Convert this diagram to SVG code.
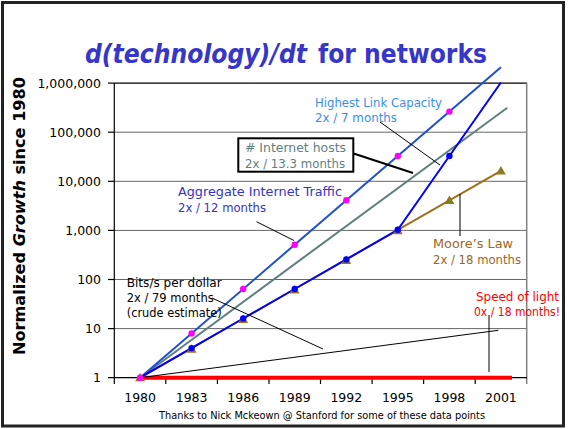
<svg xmlns="http://www.w3.org/2000/svg" width="568" height="429" viewBox="0 0 568 429">
<style>
.grid{stroke:#666;stroke-width:1}
.ax{stroke:#000;stroke-width:1.2}
.tl{font-family:"DejaVu Sans",Verdana,sans-serif;font-size:12.5px;fill:#000}
.cm{font-family:"DejaVu Sans",sans-serif;font-size:12px}
.ld{stroke:#000;stroke-width:1;fill:none}
.pk{fill:#FF00FF}
.bd{fill:#0000FF}
.tri{fill:#6F8A1E;stroke:#A0701C;stroke-width:1.3}
.ttl{font-family:"DejaVu Sans",sans-serif;font-size:26px;font-weight:bold;fill:#3636C8}
</style>
<defs>
<polygon id="tr" class="tri" points="0,-3.5 3.8,3 -3.8,3"/>
<circle id="pd" class="pk" r="3.2"/>
<circle id="bdt" class="bd" r="3.2"/>
</defs>
<rect x="0" y="0" width="568" height="429" fill="#fff"/>
<rect x="2.5" y="2.5" width="561" height="423.5" fill="none" stroke="#222" stroke-width="3"/>

<g id="title">
<text class="ttl" x="85" y="63" font-style="italic" textLength="222" lengthAdjust="spacingAndGlyphs">d(technology)/dt</text>
<text class="ttl" x="318" y="63" textLength="169" lengthAdjust="spacingAndGlyphs">for networks</text>
</g>

<g id="yaxis-title">
<text transform="translate(25,216) rotate(-90)" text-anchor="middle" font-family="DejaVu Sans,sans-serif" font-size="15" font-weight="bold" fill="#000" textLength="278" lengthAdjust="spacingAndGlyphs">Normalized <tspan font-style="italic">Growth</tspan> since 1980</text>
</g>

<g id="plot-frame">
<line class="grid" x1="114" y1="132.2" x2="527" y2="132.2"/>
<line class="grid" x1="114" y1="181.3" x2="527" y2="181.3"/>
<line class="grid" x1="114" y1="230.4" x2="527" y2="230.4"/>
<line class="grid" x1="114" y1="279.5" x2="527" y2="279.5"/>
<line class="grid" x1="114" y1="328.6" x2="527" y2="328.6"/>
<line x1="114" y1="83.1" x2="527" y2="83.1" stroke="#000" stroke-width="1.2"/>
<line x1="526.7" y1="83" x2="526.7" y2="384" stroke="#808080" stroke-width="1.5"/>
<line class="ax" x1="114.3" y1="83" x2="114.3" y2="384"/>
<line class="ax" x1="108" y1="377.7" x2="527" y2="377.7"/>
<g class="ax">
<line x1="108" y1="83.1" x2="114" y2="83.1"/>
<line x1="108" y1="132.2" x2="114" y2="132.2"/>
<line x1="108" y1="181.3" x2="114" y2="181.3"/>
<line x1="108" y1="230.4" x2="114" y2="230.4"/>
<line x1="108" y1="279.5" x2="114" y2="279.5"/>
<line x1="108" y1="328.6" x2="114" y2="328.6"/>
<line x1="165.8" y1="377.7" x2="165.8" y2="384"/>
<line x1="217.4" y1="377.7" x2="217.4" y2="384"/>
<line x1="269" y1="377.7" x2="269" y2="384"/>
<line x1="320.5" y1="377.7" x2="320.5" y2="384"/>
<line x1="372.1" y1="377.7" x2="372.1" y2="384"/>
<line x1="423.6" y1="377.7" x2="423.6" y2="384"/>
<line x1="475.2" y1="377.7" x2="475.2" y2="384"/>
</g>
<g class="tl" text-anchor="end">
<text x="101" y="87.5">1,000,000</text>
<text x="101" y="136.6">100,000</text>
<text x="101" y="185.7">10,000</text>
<text x="101" y="234.8">1,000</text>
<text x="101" y="283.9">100</text>
<text x="101" y="333">10</text>
<text x="101" y="382.1">1</text>
</g>
<g class="tl" text-anchor="middle">
<text x="140.1" y="401.5">1980</text>
<text x="191.6" y="401.5">1983</text>
<text x="243.2" y="401.5">1986</text>
<text x="294.7" y="401.5">1989</text>
<text x="346.3" y="401.5">1992</text>
<text x="397.8" y="401.5">1995</text>
<text x="449.4" y="401.5">1998</text>
<text x="500.9" y="401.5">2001</text>
</g>
<text x="159" y="419" font-family="DejaVu Sans,sans-serif" font-size="10.5" fill="#000" textLength="326" lengthAdjust="spacingAndGlyphs">Thanks to Nick Mckeown @ Stanford for some of these data points</text>
</g>

<g id="connectors">
<line id="speed-of-light" x1="140" y1="377.7" x2="512" y2="377.7" stroke="#FF0000" stroke-width="4"/>
<line id="bits-per-dollar" x1="140.1" y1="377.7" x2="498.3" y2="330.3" stroke="#000" stroke-width="1"/>
<line id="internet-hosts" x1="140.1" y1="377.7" x2="507.3" y2="107.7" stroke="#5F7F7F" stroke-width="2"/>
<line id="aggregate-traffic" x1="140.1" y1="377.7" x2="500.9" y2="67.3" stroke="#1F4FD0" stroke-width="2"/>
<polyline id="moores-law" points="140.1,377.7 191.6,348.1 243.2,318.5 294.7,289 346.3,259.4 397.8,229.8 449.4,200.3 500.9,170.8" fill="none" stroke="#A0701C" stroke-width="2"/>
<polyline id="link-capacity" points="140.1,377.7 191.6,348.1 243.2,318.5 294.7,289 346.3,259.4 397.8,229.8 449.4,156 500.9,82.5" fill="none" stroke="#0000FF" stroke-width="2"/>
<line class="ld" x1="380" y1="122" x2="440" y2="165"/>
<line x1="349" y1="152" x2="413" y2="173" stroke="#000" stroke-width="2"/>
<line class="ld" x1="256.5" y1="221.7" x2="294" y2="240.5"/>
<line class="ld" x1="460" y1="194" x2="460" y2="236"/>
<line class="ld" x1="212" y1="298" x2="323" y2="349"/>
<line class="ld" x1="489" y1="315" x2="489" y2="372"/>
</g>

<g id="markers">
<use href="#tr" x="191.6" y="349"/>
<use href="#tr" x="243.2" y="319.4"/>
<use href="#tr" x="294.7" y="289.9"/>
<use href="#tr" x="346.3" y="260.3"/>
<use href="#tr" x="397.8" y="230.7"/>
<use href="#tr" x="449.4" y="200.3"/>
<use href="#tr" x="500.9" y="170.8"/>
<use href="#tr" x="140.1" y="377.7"/>
<use href="#pd" x="140.1" y="377.7"/>
<use href="#pd" x="191.6" y="333.4"/>
<use href="#pd" x="243.2" y="289"/>
<use href="#pd" x="294.7" y="244.7"/>
<use href="#pd" x="346.3" y="200.3"/>
<use href="#pd" x="397.8" y="156"/>
<use href="#pd" x="449.4" y="111.6"/>
<use href="#bdt" x="191.6" y="348.1"/>
<use href="#bdt" x="243.2" y="318.5"/>
<use href="#bdt" x="294.7" y="289"/>
<use href="#bdt" x="346.3" y="259.4"/>
<use href="#bdt" x="397.8" y="229.8"/>
<use href="#bdt" x="449.4" y="156"/>
</g>

<g id="label-link-capacity" class="cm" fill="#3A8EEF">
<text x="315" y="106.5" textLength="127" lengthAdjust="spacingAndGlyphs">Highest Link Capacity</text>
<text x="315" y="121.5" textLength="82" lengthAdjust="spacingAndGlyphs">2x / 7 months</text>
</g>

<g id="label-internet-hosts" class="cm" fill="#5F7F7F">
<rect x="238.3" y="138.3" width="115" height="33.4" fill="#fff" stroke="#000" stroke-width="2"/>
<text x="245" y="152.3" textLength="101" lengthAdjust="spacingAndGlyphs"># Internet hosts</text>
<text x="245" y="167.5" textLength="100" lengthAdjust="spacingAndGlyphs">2x / 13.3 months</text>
</g>

<g id="label-aggregate-traffic" class="cm" fill="#3333CC">
<text x="178" y="195.5" textLength="164" lengthAdjust="spacingAndGlyphs">Aggregate Internet Traffic</text>
<text x="178" y="212.3" textLength="88" lengthAdjust="spacingAndGlyphs">2x / 12 months</text>
</g>

<g id="label-moores-law" class="cm" fill="#A0661A">
<text x="433" y="248" textLength="80" lengthAdjust="spacingAndGlyphs">Moore’s Law</text>
<text x="433" y="264" textLength="88" lengthAdjust="spacingAndGlyphs">2x / 18 months</text>
</g>

<g id="label-bits-per-dollar" class="cm" fill="#000">
<text x="126.7" y="287.3" textLength="95" lengthAdjust="spacingAndGlyphs">Bits/s per dollar</text>
<text x="126.7" y="301.5" textLength="87" lengthAdjust="spacingAndGlyphs">2x / 79 months</text>
<text x="126.7" y="316.5" textLength="95" lengthAdjust="spacingAndGlyphs">(crude estimate)</text>
</g>

<g id="label-speed-of-light" class="cm" fill="#FF0000">
<text x="476" y="300.5" textLength="83" lengthAdjust="spacingAndGlyphs">Speed of light</text>
<text x="474" y="315.5" textLength="86" lengthAdjust="spacingAndGlyphs">0x / 18 months!</text>
</g>
</svg>
